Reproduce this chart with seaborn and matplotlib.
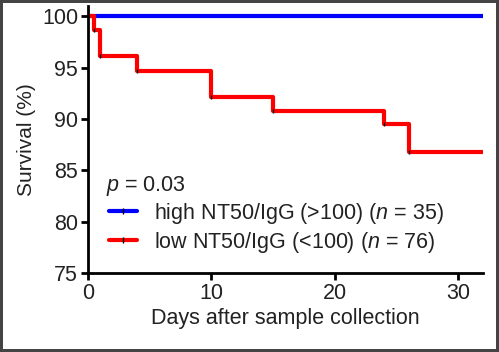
import numpy as np
import pandas as pd
import seaborn as sns
import matplotlib.pyplot as plt
from matplotlib.lines import Line2D

days_high = [0, 32]
surv_high = [100, 100]

days_low = [0, 0.5, 1, 4, 10, 15, 24, 26, 32]
surv_low = [100, 98.7, 96.1, 94.7, 92.1, 90.8, 89.5, 86.8, 86.8]

labels = ['high NT50/IgG (>100) ($n$ = 35)', 'low NT50/IgG (<100) ($n$ = 76)']
colors = ['#0000ff', '#ff0000']

df = pd.concat([
    pd.DataFrame({'day': days_high, 'surv': surv_high, 'group': labels[0]}),
    pd.DataFrame({'day': days_low, 'surv': surv_low, 'group': labels[1]}),
])

sns.set_style('ticks')
plt.rcParams['font.family'] = ['Liberation Sans', 'DejaVu Sans']
plt.rcParams['mathtext.fontset'] = 'custom'
plt.rcParams['mathtext.it'] = 'Liberation Sans:italic'
plt.rcParams['mathtext.rm'] = 'Liberation Sans'

fs = 15.5
txt = '#222222'

fig = plt.figure(figsize=(4.99, 3.52), dpi=100)
fig.patch.set_edgecolor('#444444')
fig.patch.set_linewidth(3)
ax = fig.add_axes([0.176, 0.224, 0.792, 0.759])

sns.lineplot(data=df, x='day', y='surv', hue='group', palette=colors,
             drawstyle='steps-post', linewidth=3, legend=False, ax=ax)

# censor ticks at the drops
ax.scatter(days_low[1:-1], surv_low[1:-1], marker='|', color='black', s=10, linewidths=1, zorder=5)

ax.set_xlim(0, 32)
ax.set_ylim(75, 101)
ax.set_xticks([0, 10, 20, 30])
ax.set_yticks([75, 80, 85, 90, 95, 100])
ax.tick_params(labelsize=fs, width=2, length=5, color='black', labelcolor=txt, pad=2)
for s in ['left', 'bottom']:
    ax.spines[s].set_linewidth(2)
    ax.spines[s].set_color('black')
sns.despine(ax=ax)
ax.set_xlabel('Days after sample collection', fontsize=fs, color=txt, labelpad=3)
ax.set_ylabel('Survival (%)', fontsize=fs - 0.5, color=txt, labelpad=4)

ax.text(1.5, 83.0, '$p$ = 0.03', fontsize=fs, color=txt)
leg = ax.legend([Line2D([0, 0.5, 1], [0, 0, 0], color=c, lw=3, marker='|', markersize=4,
                        markeredgecolor='black', markevery=[1]) for c in colors],
                labels, loc='lower left', bbox_to_anchor=(0.02, 0.02), frameon=False,
                fontsize=fs, handlelength=1.3, handletextpad=0.8, labelspacing=0.2,
                borderaxespad=0.2)
for t in leg.get_texts():
    t.set_color(txt)

fig.savefig('out.png', dpi=100)
